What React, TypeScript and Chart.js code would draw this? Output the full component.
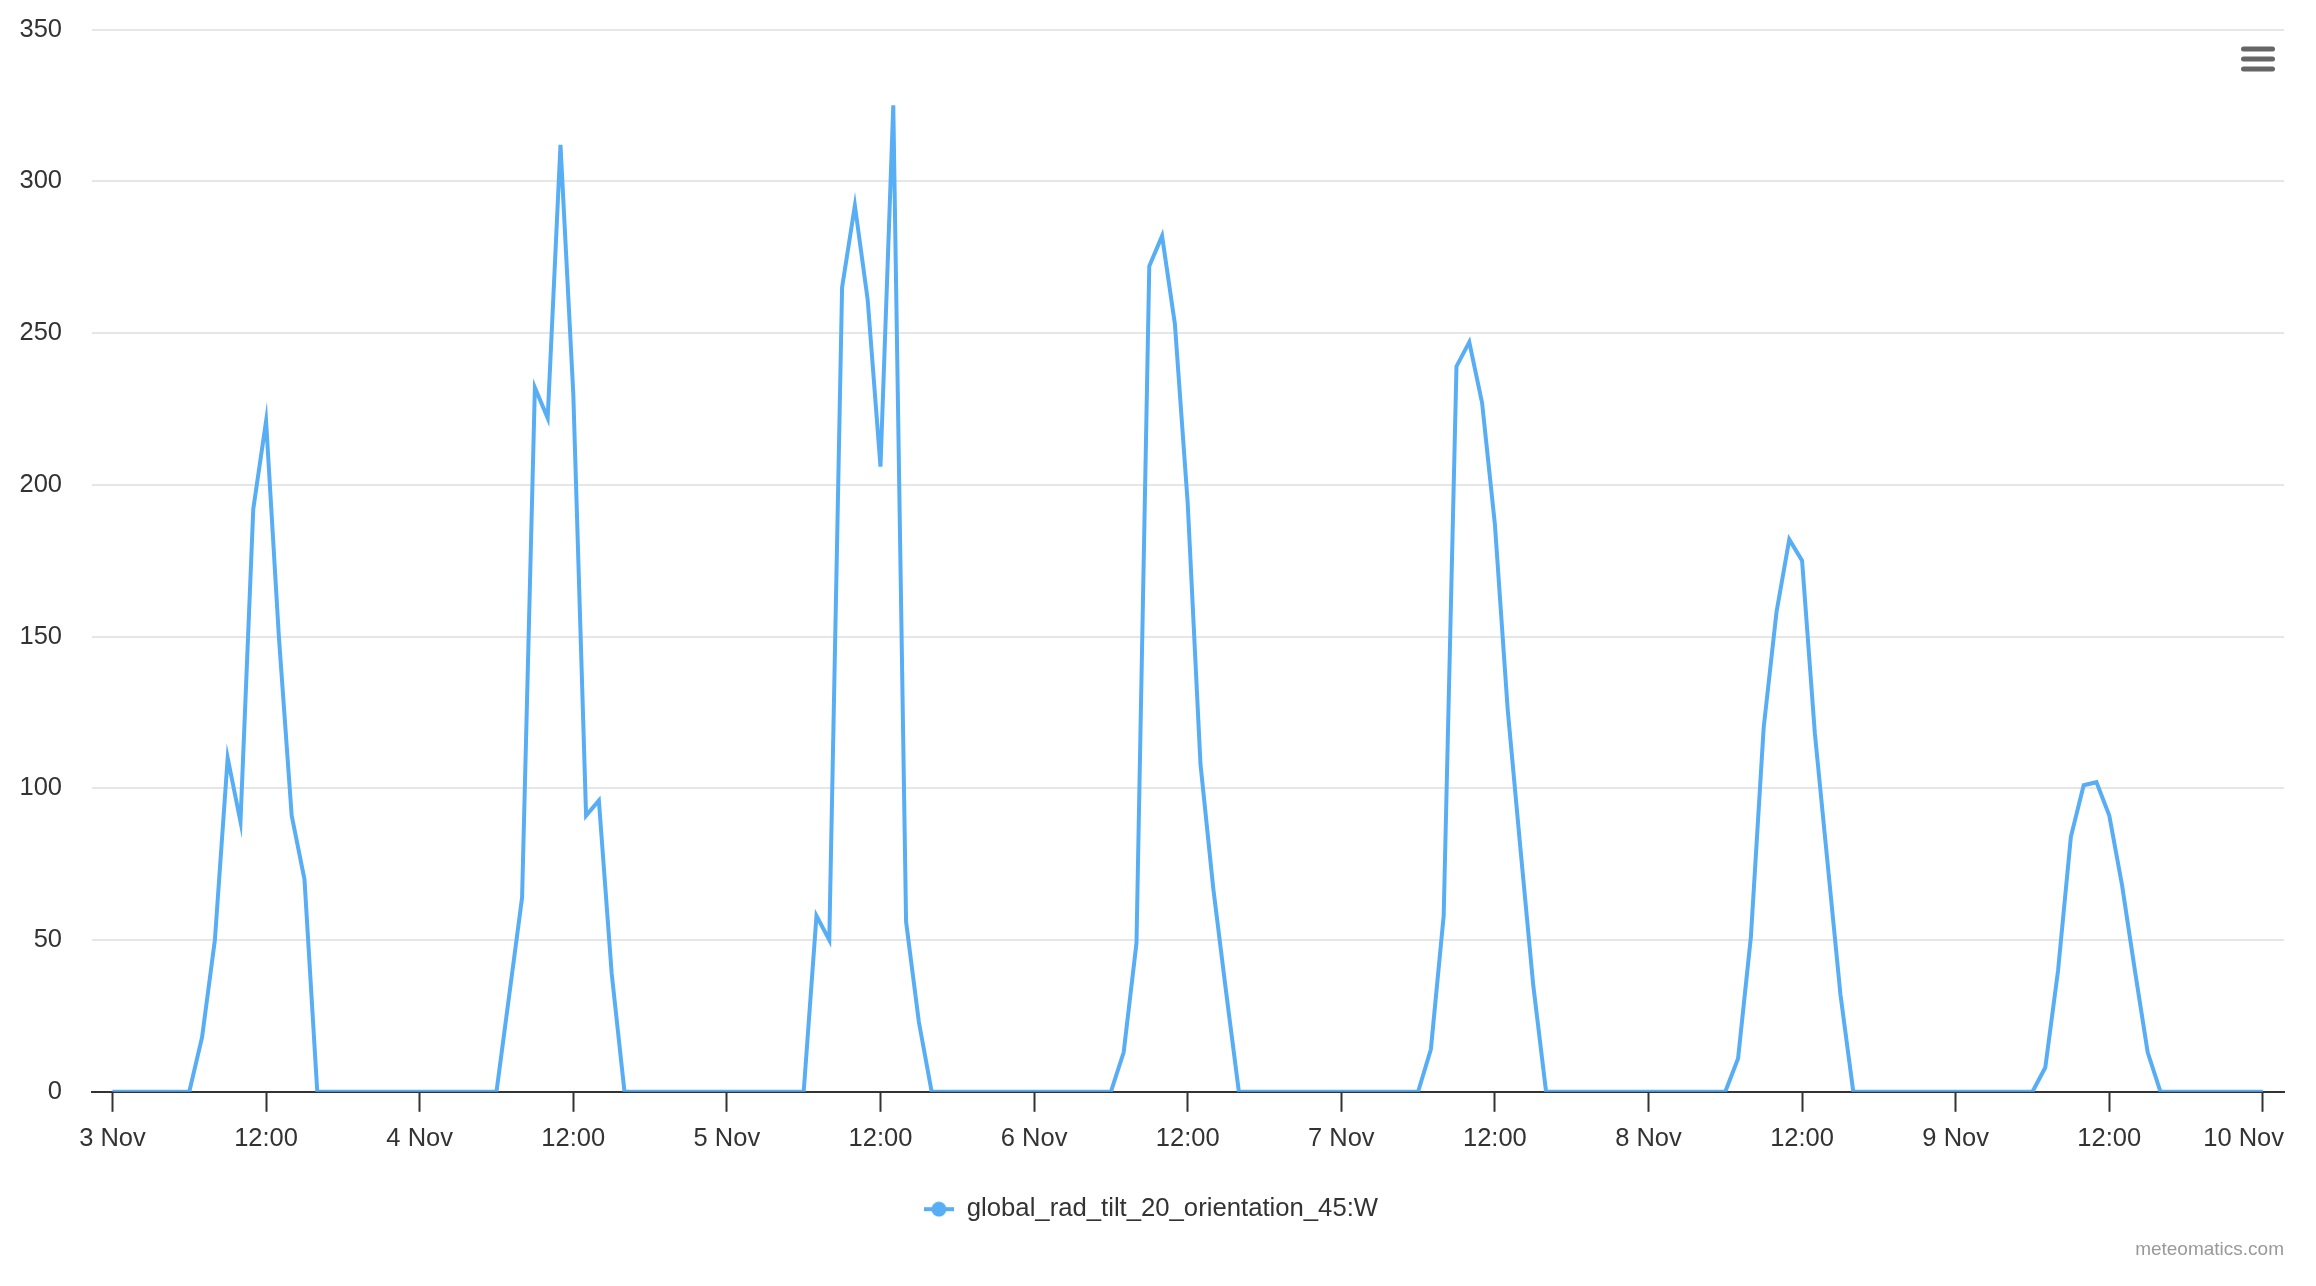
import { useEffect, useRef } from 'react';
import { Chart, registerables } from 'chart.js';

Chart.register(...registerables);

// ---- data (hourly values, W) ----
const tickLabels = ['3 Nov', '12:00', '4 Nov', '12:00', '5 Nov', '12:00', '6 Nov', '12:00', '7 Nov', '12:00', '8 Nov', '12:00', '9 Nov', '12:00', '10 Nov'];
const nov3 = [0, 0, 0, 0, 0, 0, 0, 18, 50, 110, 89, 192, 221, 150, 91, 70, 0, 0, 0, 0, 0, 0, 0, 0];
const nov4 = [0, 0, 0, 0, 0, 0, 0, 32, 64, 232, 222, 312, 230, 91, 96, 39, 0, 0, 0, 0, 0, 0, 0, 0];
const nov5 = [0, 0, 0, 0, 0, 0, 0, 58, 50, 265, 292, 261, 206, 325, 56, 23, 0, 0, 0, 0, 0, 0, 0, 0];
const nov6 = [0, 0, 0, 0, 0, 0, 0, 13, 49, 272, 282, 253, 194, 108, 67, 33, 0, 0, 0, 0, 0, 0, 0, 0];
const nov7 = [0, 0, 0, 0, 0, 0, 0, 14, 58, 239, 247, 227, 187, 126, 80, 35, 0, 0, 0, 0, 0, 0, 0, 0];
const nov8 = [0, 0, 0, 0, 0, 0, 0, 11, 51, 120, 158, 182, 175, 118, 75, 32, 0, 0, 0, 0, 0, 0, 0, 0];
const nov9 = [0, 0, 0, 0, 0, 0, 0, 8, 40, 84, 101, 102, 91, 68, 40, 13, 0, 0, 0, 0, 0, 0, 0, 0];
const nov10 = [0];
const yTickValues = [0, 50, 100, 150, 200, 250, 300, 350];
const seriesName = 'global_rad_tilt_20_orientation_45:W';
const creditText = 'meteomatics.com';

const hourly = [...nov3, ...nov4, ...nov5, ...nov6, ...nov7, ...nov8, ...nov9, ...nov10];

const LINE_COLOR = '#58aef5';
const FONT = '"Liberation Sans", Arial, Helvetica, sans-serif';
const AXIS_FONT_SIZE = 25.5;

function makeLegendSymbol(): HTMLCanvasElement {
  const c = document.createElement('canvas');
  c.width = 30;
  c.height = 18;
  const ctx = c.getContext('2d')!;
  ctx.strokeStyle = LINE_COLOR;
  ctx.lineWidth = 4;
  ctx.beginPath();
  ctx.moveTo(0, 9);
  ctx.lineTo(30, 9);
  ctx.stroke();
  ctx.fillStyle = LINE_COLOR;
  ctx.beginPath();
  ctx.arc(15, 9, 7.5, 0, Math.PI * 2);
  ctx.fill();
  return c;
}

const extrasPlugin = {
  id: 'extras',
  afterDraw(chart: any) {
    const ctx = chart.ctx;
    const area = chart.chartArea;
    ctx.save();
    // last x label, kept inside the plot like the original
    ctx.fillStyle = '#333333';
    ctx.font = `${AXIS_FONT_SIZE}px ${FONT}`;
    ctx.textAlign = 'right';
    ctx.textBaseline = 'middle';
    ctx.fillText(tickLabels[tickLabels.length - 1], area.right, 1139);
    // credits
    ctx.fillStyle = '#999999';
    ctx.font = `19px ${FONT}`;
    ctx.fillText(creditText, area.right, 1250);
    // context menu button
    ctx.strokeStyle = '#666666';
    ctx.lineWidth = 5;
    ctx.lineCap = 'round';
    [49, 59, 69].forEach((y) => {
      ctx.beginPath();
      ctx.moveTo(2243.5, y);
      ctx.lineTo(2272.5, y);
      ctx.stroke();
    });
    ctx.restore();
  },
};

export default function App() {
  const ref = useRef<HTMLCanvasElement | null>(null);

  useEffect(() => {
    document.body.style.margin = '0';
    const canvas = ref.current!;
    const symbol = makeLegendSymbol();
    const chart = new Chart(canvas, {
      type: 'line',
      data: {
        datasets: [
          {
            label: seriesName,
            data: hourly.map((v, i) => ({ x: i, y: v })),
            borderColor: LINE_COLOR,
            backgroundColor: LINE_COLOR,
            borderWidth: 4,
            pointRadius: 0,
            tension: 0,
            fill: false,
          },
        ],
      },
      options: {
        responsive: false,
        animation: false,
        layout: { padding: { left: 18, right: 32, top: 29.5, bottom: 54 } },
        scales: {
          x: {
            type: 'linear',
            min: -1.6,
            max: 169.65,
            afterBuildTicks: (s: any) => {
              s.ticks = tickLabels.map((_, i) => ({ value: i * 12 }));
            },
            afterFit: (s: any) => {
              s.height = 94.5;
            },
            ticks: {
              autoSkip: false,
              maxRotation: 0,
              padding: 12,
              color: '#333333',
              font: { family: FONT, size: AXIS_FONT_SIZE },
              callback: (v: any) => {
                const i = Math.round(Number(v) / 12);
                return i === tickLabels.length - 1 ? '' : tickLabels[i];
              },
            },
            grid: { drawOnChartArea: false, tickLength: 20, tickColor: '#333333', tickWidth: 2 },
            border: { color: '#333333', width: 2 },
          },
          y: {
            min: 0,
            max: 350,
            afterBuildTicks: (s: any) => {
              s.ticks = yTickValues.map((v) => ({ value: v }));
            },
            afterFit: (s: any) => {
              s.width = 74;
              s.paddingTop = 0;
              s.paddingBottom = 0;
            },
            ticks: {
              padding: 30,
              color: '#333333',
              font: { family: FONT, size: AXIS_FONT_SIZE },
            },
            grid: { color: '#e6e6e6', lineWidth: 2, drawTicks: false },
            border: { display: false },
          },
        },
        plugins: {
          tooltip: { enabled: false },
          legend: {
            position: 'bottom',
            labels: {
              usePointStyle: true,
              pointStyleWidth: 30,
              padding: 10,
              color: '#333333',
              font: { family: FONT, size: 25.7 },
              generateLabels: () => [
                {
                  text: seriesName,
                  pointStyle: symbol as any,
                  fillStyle: LINE_COLOR,
                  strokeStyle: LINE_COLOR,
                  lineWidth: 0,
                  hidden: false,
                  datasetIndex: 0,
                  fontColor: '#333333',
                } as any,
              ],
            },
          },
        },
      },
      plugins: [extrasPlugin],
    });
    return () => chart.destroy();
  }, []);

  return (
    <div style={{ width: 2316, height: 1286 }}>
      <canvas ref={ref} width={2316} height={1286} style={{ display: 'block', width: 2316, height: 1286 }} />
    </div>
  );
}
